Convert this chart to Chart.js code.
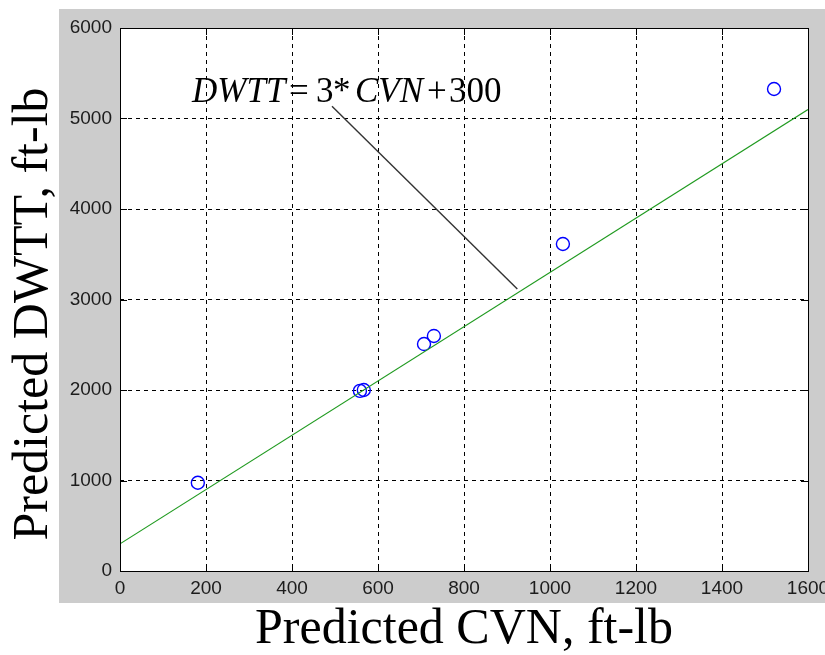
<!DOCTYPE html>
<html>
<head>
<meta charset="utf-8">
<script src="https://cdn.jsdelivr.net/npm/chart.js@4/dist/chart.umd.min.js"></script>
<style>
  html, body { margin: 0; padding: 0; background: #ffffff; }
  #wrap { width: 825px; height: 655px; }
</style>
</head>
<body>
<div id="wrap"><canvas id="chart" width="825" height="655"></canvas></div>
<script>
var cvn  = [181, 558, 567, 707, 730, 1030, 1521];
var dwtt = [975, 1990, 2000, 2508, 2597, 3613, 5326];

// fitted line DWTT = 3*CVN + 300
var fitX = [0, 1600];
var fitY = [300, 5100];

// leader line from the equation to the fit line
var leaderX = [493, 924];
var leaderY = [5134, 3116];

var xTicks = [0, 200, 400, 600, 800, 1000, 1200, 1400, 1600];
var yTicks = [0, 1000, 2000, 3000, 4000, 5000, 6000];

function pairs(xs, ys) {
    var out = [];
    for (let i = 0; i < xs.length; i++) {
        out.push({ x: xs[i], y: ys[i] });
    }
    return out;
}

var figurePlugin = {
    id: 'figure',
    beforeDraw: function(chart) {
        var ctx = chart.ctx;
        var a = chart.chartArea;
        ctx.save();
        ctx.fillStyle = '#ffffff';
        ctx.fillRect(0, 0, chart.width, chart.height);
        ctx.fillStyle = '#cccccc';
        ctx.fillRect(59, 9, chart.width - 59, 594);
        ctx.fillStyle = '#ffffff';
        ctx.fillRect(a.left, a.top, a.right - a.left, a.bottom - a.top);
        ctx.restore();
    },
    afterDatasetsDraw: function(chart) {
        var ctx = chart.ctx;
        var a = chart.chartArea;
        var xs = chart.scales.x, ys = chart.scales.y;
        var tl = 7;
        ctx.save();
        ctx.strokeStyle = '#000000';
        ctx.lineWidth = 1;
        ctx.beginPath();
        xTicks.forEach(function(v) {
            var px = Math.round(xs.getPixelForValue(v)) + 0.5;
            ctx.moveTo(px, a.bottom); ctx.lineTo(px, a.bottom - tl);
            ctx.moveTo(px, a.top); ctx.lineTo(px, a.top + tl);
        });
        yTicks.forEach(function(v) {
            var py = Math.round(ys.getPixelForValue(v)) + 0.5;
            ctx.moveTo(a.left, py); ctx.lineTo(a.left + tl, py);
            ctx.moveTo(a.right, py); ctx.lineTo(a.right - tl, py);
        });
        ctx.stroke();
        ctx.strokeRect(Math.round(a.left) + 0.5, Math.round(a.top) + 0.5,
                       Math.round(a.right - a.left), Math.round(a.bottom - a.top));
        ctx.restore();
    },
    afterDraw: function(chart) {
        var ctx = chart.ctx;
        ctx.save();
        ctx.fillStyle = '#000000';
        ctx.textBaseline = 'alphabetic';

        // axis titles
        ctx.font = '50px "Liberation Serif", "Times New Roman", serif';
        ctx.textAlign = 'left';
        ctx.fillText('Predicted CVN, ft-lb', 255, 643);

        ctx.translate(47, 314);
        ctx.rotate(-Math.PI / 2);
        ctx.textAlign = 'center';
        ctx.fillText('Predicted DWTT, ft-lb', 0, 0);
        ctx.setTransform(1, 0, 0, 1, 0, 0);

        // equation text
        var ax = 192, ay = 102;
        var pieces = [
            ['DWTT', 0, true], ['=', 97, false], ['3', 124, false], ['*', 141, false],
            ['CVN', 163, true], ['+', 235, false], ['300', 257, false]
        ];
        ctx.textAlign = 'left';
        pieces.forEach(function(p) {
            ctx.font = (p[2] ? 'italic ' : '') + '35px "Liberation Serif", "Times New Roman", serif';
            ctx.fillText(p[0], ax + p[1], ay);
        });
        ctx.restore();
    }
};

var tickFont = { family: '"Liberation Sans", Arial, sans-serif', size: 19 };
var plainNumber = function(v) { return String(v); };

var chart = new Chart(document.getElementById('chart'), {
    type: 'scatter',
    data: {
        datasets: [
            {
                label: 'fit',
                data: pairs(fitX, fitY),
                showLine: true,
                borderColor: '#1f9a1f',
                borderWidth: 1.2,
                pointRadius: 0,
                fill: false
            },
            {
                label: 'leader',
                data: pairs(leaderX, leaderY),
                showLine: true,
                borderColor: '#333333',
                borderWidth: 1.4,
                pointRadius: 0,
                fill: false
            },
            {
                label: 'data',
                data: pairs(cvn, dwtt),
                showLine: false,
                pointStyle: 'circle',
                pointRadius: 6.5,
                pointBorderWidth: 1.4,
                pointBorderColor: '#0000ff',
                pointBackgroundColor: 'rgba(0,0,0,0)'
            }
        ]
    },
    plugins: [figurePlugin],
    options: {
        responsive: false,
        animation: false,
        events: [],
        layout: { padding: { left: 0, top: 28, right: 17, bottom: 0 } },
        plugins: {
            legend: { display: false },
            tooltip: { enabled: false }
        },
        scales: {
            x: {
                type: 'linear',
                min: 0,
                max: 1600,
                afterBuildTicks: function(scale) {
                    scale.ticks = xTicks.map(function(v) { return { value: v }; });
                },
                afterFit: function(scale) {
                    scale.height = 84;
                    scale.paddingLeft = 0;
                    scale.paddingRight = 0;
                },
                ticks: { font: tickFont, color: '#1c1c1c', padding: 6, maxRotation: 0, autoSkip: false, callback: plainNumber },
                grid: { color: '#000000', lineWidth: 1, drawTicks: false },
                border: { display: false, dash: [4, 4] }
            },
            y: {
                type: 'linear',
                min: 0,
                max: 6000,
                afterBuildTicks: function(scale) {
                    scale.ticks = yTicks.map(function(v) { return { value: v }; });
                },
                afterFit: function(scale) {
                    scale.width = 120;
                    scale.paddingTop = 0;
                    scale.paddingBottom = 0;
                },
                ticks: { font: tickFont, color: '#1c1c1c', padding: 8, autoSkip: false, callback: plainNumber },
                grid: { color: '#000000', lineWidth: 1, drawTicks: false },
                border: { display: false, dash: [4, 4] }
            }
        }
    }
});
</script>
</body>
</html>
